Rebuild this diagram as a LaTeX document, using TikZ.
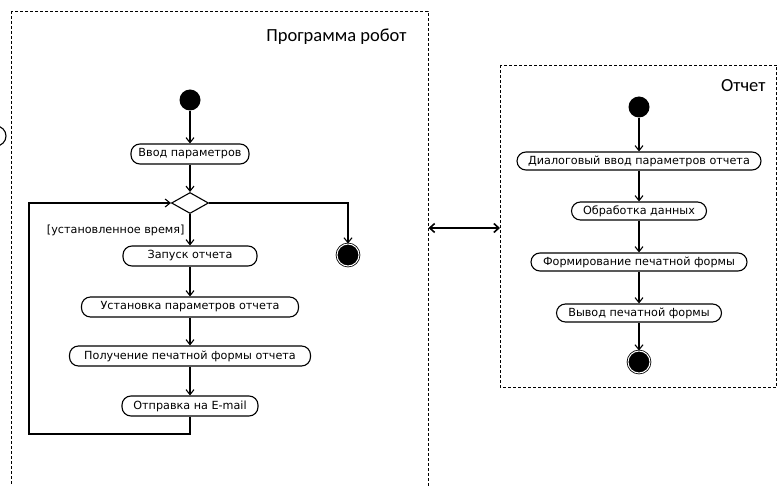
\documentclass[tikz,border=0pt]{standalone}
\usepackage{fontspec}
\setmainfont{DejaVu Sans}
\newfontfamily\titlefont{Carlito}
\usetikzlibrary{arrows.meta,shapes.geometric}
\begin{document}
\begin{tikzpicture}[x=1pt,y=-1pt,
  act/.style={draw,line width=1.1pt,rounded corners=9pt,minimum height=20pt,inner xsep=3pt,inner ysep=1pt,font=\fontsize{11.2}{13}\selectfont},
  startnode/.style={circle,fill=black,minimum size=21pt,inner sep=0pt},
  endnode/.style={circle,draw,line width=0.8pt,fill=black,minimum size=22pt,inner sep=0pt,double=white,double distance=1pt},
  decis/.style={diamond,draw,line width=1.1pt,minimum width=37pt,minimum height=21pt,inner sep=0pt,aspect=1.8},
  flow/.style={line width=1.1pt,-{Straight Barb[length=5pt,width=8pt]}},
  frame/.style={draw,dashed,line width=0.6pt,dash pattern=on 3pt off 2pt},
  ttl/.style={font=\titlefont\fontsize{18.5}{22}\selectfont}]
\useasboundingbox (0,0) rectangle (778,486);
\clip (0,0) rectangle (778,486);
% partial circle at left edge
\draw[line width=1.1pt] (-4,136) circle (10);
% left frame
\draw[frame] (11,11) rectangle (428,500);
\node[ttl,anchor=east] (t1) at (410,37) {Программа робот};
% right frame
\draw[frame] (500,65) rectangle (776.5,387);
\node[ttl,anchor=east] (t2) at (769,86) {Отчет};
% left flow
\node[startnode] (s1) at (190,100) {};
\node[act,minimum width=118pt] (a1) at (190,154) {Ввод параметров};
\node[decis] (d1) at (190,203) {};
\node[act,minimum width=134pt] (a2) at (190,256) {Запуск отчета};
\node[act,minimum width=217pt] (a3) at (190,307) {Установка параметров отчета};
\node[act,minimum width=241pt] (a4) at (190,356) {Получение печатной формы отчета};
\node[act,minimum width=136pt] (a5) at (190,406) {Отправка на E-mail};
\node[endnode] (e1) at (348,255) {};
\node[font=\fontsize{11.2}{13}\selectfont,anchor=east] (g1) at (188,230) {[установленное время]};
\coordinate (l1) at (190,434);
\coordinate (l2) at (29,434);
\coordinate (l3) at (29,203);
\coordinate (r1) at (348,203);
\draw[flow] (s1) -- (a1);
\draw[flow] (a1) -- (d1);
\draw[flow] (d1) -- (a2);
\draw[flow] (a2) -- (a3);
\draw[flow] (a3) -- (a4);
\draw[flow] (a4) -- (a5);
\draw[flow] (a5.south) -- (l1) -- (l2) -- (l3) -- (d1.west);
\draw[flow] (d1.east) -- (r1) -- (e1);
% right flow
\node[startnode] (s2) at (639,107) {};
\node[act,minimum width=244pt,minimum height=18pt] (b1) at (639,161) {Диалоговый ввод параметров отчета};
\node[act,minimum width=135pt,minimum height=18pt] (b2) at (639,211) {Обработка данных};
\node[act,minimum width=216pt,minimum height=18pt] (b3) at (639,262) {Формирование печатной формы};
\node[act,minimum width=165pt,minimum height=18pt] (b4) at (639,313) {Вывод печатной формы};
\node[endnode] (e2) at (639,362) {};
\draw[flow] (s2) -- (b1);
\draw[flow] (b1) -- (b2);
\draw[flow] (b2) -- (b3);
\draw[flow] (b3) -- (b4);
\draw[flow] (b4) -- (e2);
% link between frames
\coordinate (k1) at (428.5,228);
\coordinate (k2) at (500,228);
\draw[line width=1.6pt,{Straight Barb[length=5pt,width=9pt]}-{Straight Barb[length=5pt,width=9pt]}] (k1) -- (k2);
\end{tikzpicture}
\end{document}
